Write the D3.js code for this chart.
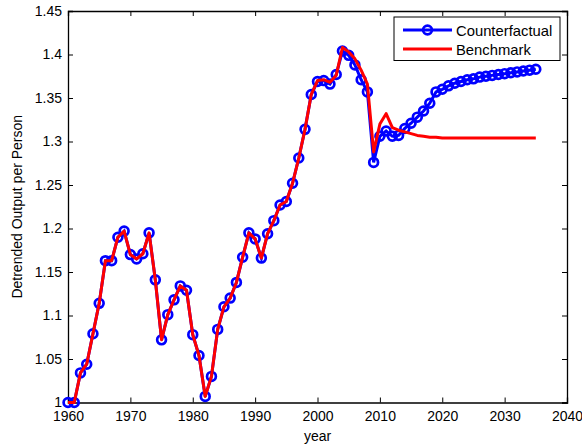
<!DOCTYPE html>
<html>
<head>
<meta charset="utf-8">
<script src="https://cdn.jsdelivr.net/npm/d3@7"></script>
<style>
  body { margin: 0; background: #fff; }
  text { font-family: "Liberation Sans", Arial, sans-serif; }
</style>
</head>
<body>
<script>
let width = 582
let height = 445

// years 1960 - 2035
let years = d3.range(1960, 2036)

let counterfactual = [1.000, 1.000, 1.034, 1.044, 1.079, 1.114, 1.163, 1.163, 1.190, 1.197,
    1.170, 1.165, 1.171, 1.195, 1.141, 1.072, 1.101, 1.118, 1.134, 1.129,
    1.078, 1.054, 1.007, 1.030, 1.084, 1.110, 1.120, 1.138, 1.167, 1.195,
    1.188, 1.166, 1.194, 1.209, 1.227, 1.231, 1.252, 1.281, 1.314, 1.354,
    1.369, 1.370, 1.366, 1.377, 1.404, 1.399, 1.388, 1.371, 1.357, 1.276,
    1.306, 1.312, 1.306, 1.307, 1.315, 1.321, 1.328, 1.335, 1.344, 1.357,
    1.360, 1.364, 1.367, 1.369, 1.371, 1.372, 1.374, 1.375, 1.376, 1.377,
    1.378, 1.379, 1.380, 1.381, 1.382, 1.383]

let benchmark = [1.000, 1.000, 1.034, 1.044, 1.079, 1.114, 1.163, 1.163, 1.190, 1.197,
    1.170, 1.165, 1.171, 1.195, 1.141, 1.072, 1.101, 1.118, 1.134, 1.129,
    1.078, 1.054, 1.007, 1.030, 1.084, 1.110, 1.120, 1.138, 1.167, 1.195,
    1.188, 1.166, 1.194, 1.209, 1.227, 1.231, 1.252, 1.281, 1.314, 1.354,
    1.370, 1.371, 1.368, 1.376, 1.408, 1.403, 1.395, 1.382, 1.366, 1.288,
    1.320, 1.332, 1.316, 1.313, 1.311, 1.309, 1.307, 1.306, 1.305, 1.305,
    1.304, 1.304, 1.304, 1.304, 1.304, 1.304, 1.304, 1.304, 1.304, 1.304,
    1.304, 1.304, 1.304, 1.304, 1.304, 1.304]

let xTicks = [1960, 1970, 1980, 1990, 2000, 2010, 2020, 2030, 2040]
let yTicks = [1, 1.05, 1.1, 1.15, 1.2, 1.25, 1.3, 1.35, 1.4, 1.45]
let seriesNames = ["Counterfactual", "Benchmark"]

let margin = {left: 68, right: 15, top: 11, bottom: 42.5}

let svg = d3.select("body")
    .append("svg")
    .attr("width", width)
    .attr("height", height)

let x = d3.scaleLinear()
    .domain([1960, 2040])
    .range([margin.left, width - margin.right])

let y = d3.scaleLinear()
    .domain([1, 1.45])
    .range([height - margin.bottom, margin.top])

// axes, MATLAB style: ticks inward on all four sides
let fmt = d => String(+d.toFixed(2))

svg.append("g")
    .attr("transform", `translate(0,${y(1)})`)
    .call(d3.axisBottom(x).tickValues(xTicks).tickSize(-5).tickPadding(9).tickFormat(d3.format("d")))
svg.append("g")
    .attr("transform", `translate(0,${y(1.45)})`)
    .call(d3.axisTop(x).tickValues(xTicks).tickSize(-5).tickFormat(""))
svg.append("g")
    .attr("transform", `translate(${x(1960)},0)`)
    .call(d3.axisLeft(y).tickValues(yTicks).tickSize(-5).tickPadding(6).tickFormat(fmt))
svg.append("g")
    .attr("transform", `translate(${x(2040)},0)`)
    .call(d3.axisRight(y).tickValues(yTicks).tickSize(-5).tickFormat(""))

svg.selectAll(".domain").attr("stroke", "#000").attr("stroke-width", 1.3)
svg.selectAll(".tick line").attr("stroke", "#000")
svg.selectAll(".tick text")
    .attr("font-size", 14)
    .attr("fill", "#000")
    .attr("font-family", "Liberation Sans, Arial, sans-serif")

let line = d3.line()
    .x((d, i) => x(years[i]))
    .y(d => y(d))

svg.append("path")
    .datum(counterfactual)
    .attr("fill", "none")
    .attr("stroke", "#0000ff")
    .attr("stroke-width", 3)
    .attr("d", line)

svg.append("g")
    .selectAll("circle")
    .data(counterfactual)
    .enter()
    .append("circle")
    .attr("cx", (d, i) => x(years[i]))
    .attr("cy", d => y(d))
    .attr("r", 4.4)
    .attr("fill", "none")
    .attr("stroke", "#0000ff")
    .attr("stroke-width", 2.7)

svg.append("path")
    .datum(benchmark)
    .attr("fill", "none")
    .attr("stroke", "#ff0000")
    .attr("stroke-width", 3)
    .attr("stroke-linejoin", "round")
    .attr("d", line)

// legend
let lg = svg.append("g").attr("transform", "translate(394,17)")
lg.append("rect")
    .attr("width", 166)
    .attr("height", 43.5)
    .attr("fill", "#fff")
    .attr("stroke", "#000")
    .attr("stroke-width", 1)
lg.append("line")
    .attr("x1", 9).attr("x2", 58).attr("y1", 13).attr("y2", 13)
    .attr("stroke", "#0000ff").attr("stroke-width", 3)
lg.append("circle")
    .attr("cx", 33.5).attr("cy", 13).attr("r", 4.4)
    .attr("fill", "none").attr("stroke", "#0000ff").attr("stroke-width", 2.7)
lg.append("line")
    .attr("x1", 9).attr("x2", 58).attr("y1", 32).attr("y2", 32)
    .attr("stroke", "#ff0000").attr("stroke-width", 3)
lg.selectAll("text")
    .data(seriesNames)
    .enter()
    .append("text")
    .attr("x", 62)
    .attr("y", (d, i) => 18.5 + i * 19)
    .attr("font-size", 14.8)
    .text(d => d)

// axis labels
svg.append("text")
    .attr("x", x(2000))
    .attr("y", 441)
    .attr("text-anchor", "middle")
    .attr("font-size", 14)
    .text("year")

svg.append("text")
    .attr("transform", `translate(22,${(y(1) + y(1.45)) / 2}) rotate(-90)`)
    .attr("text-anchor", "middle")
    .attr("font-size", 14)
    .text("Detrended Output per Person")
</script>
</body>
</html>
